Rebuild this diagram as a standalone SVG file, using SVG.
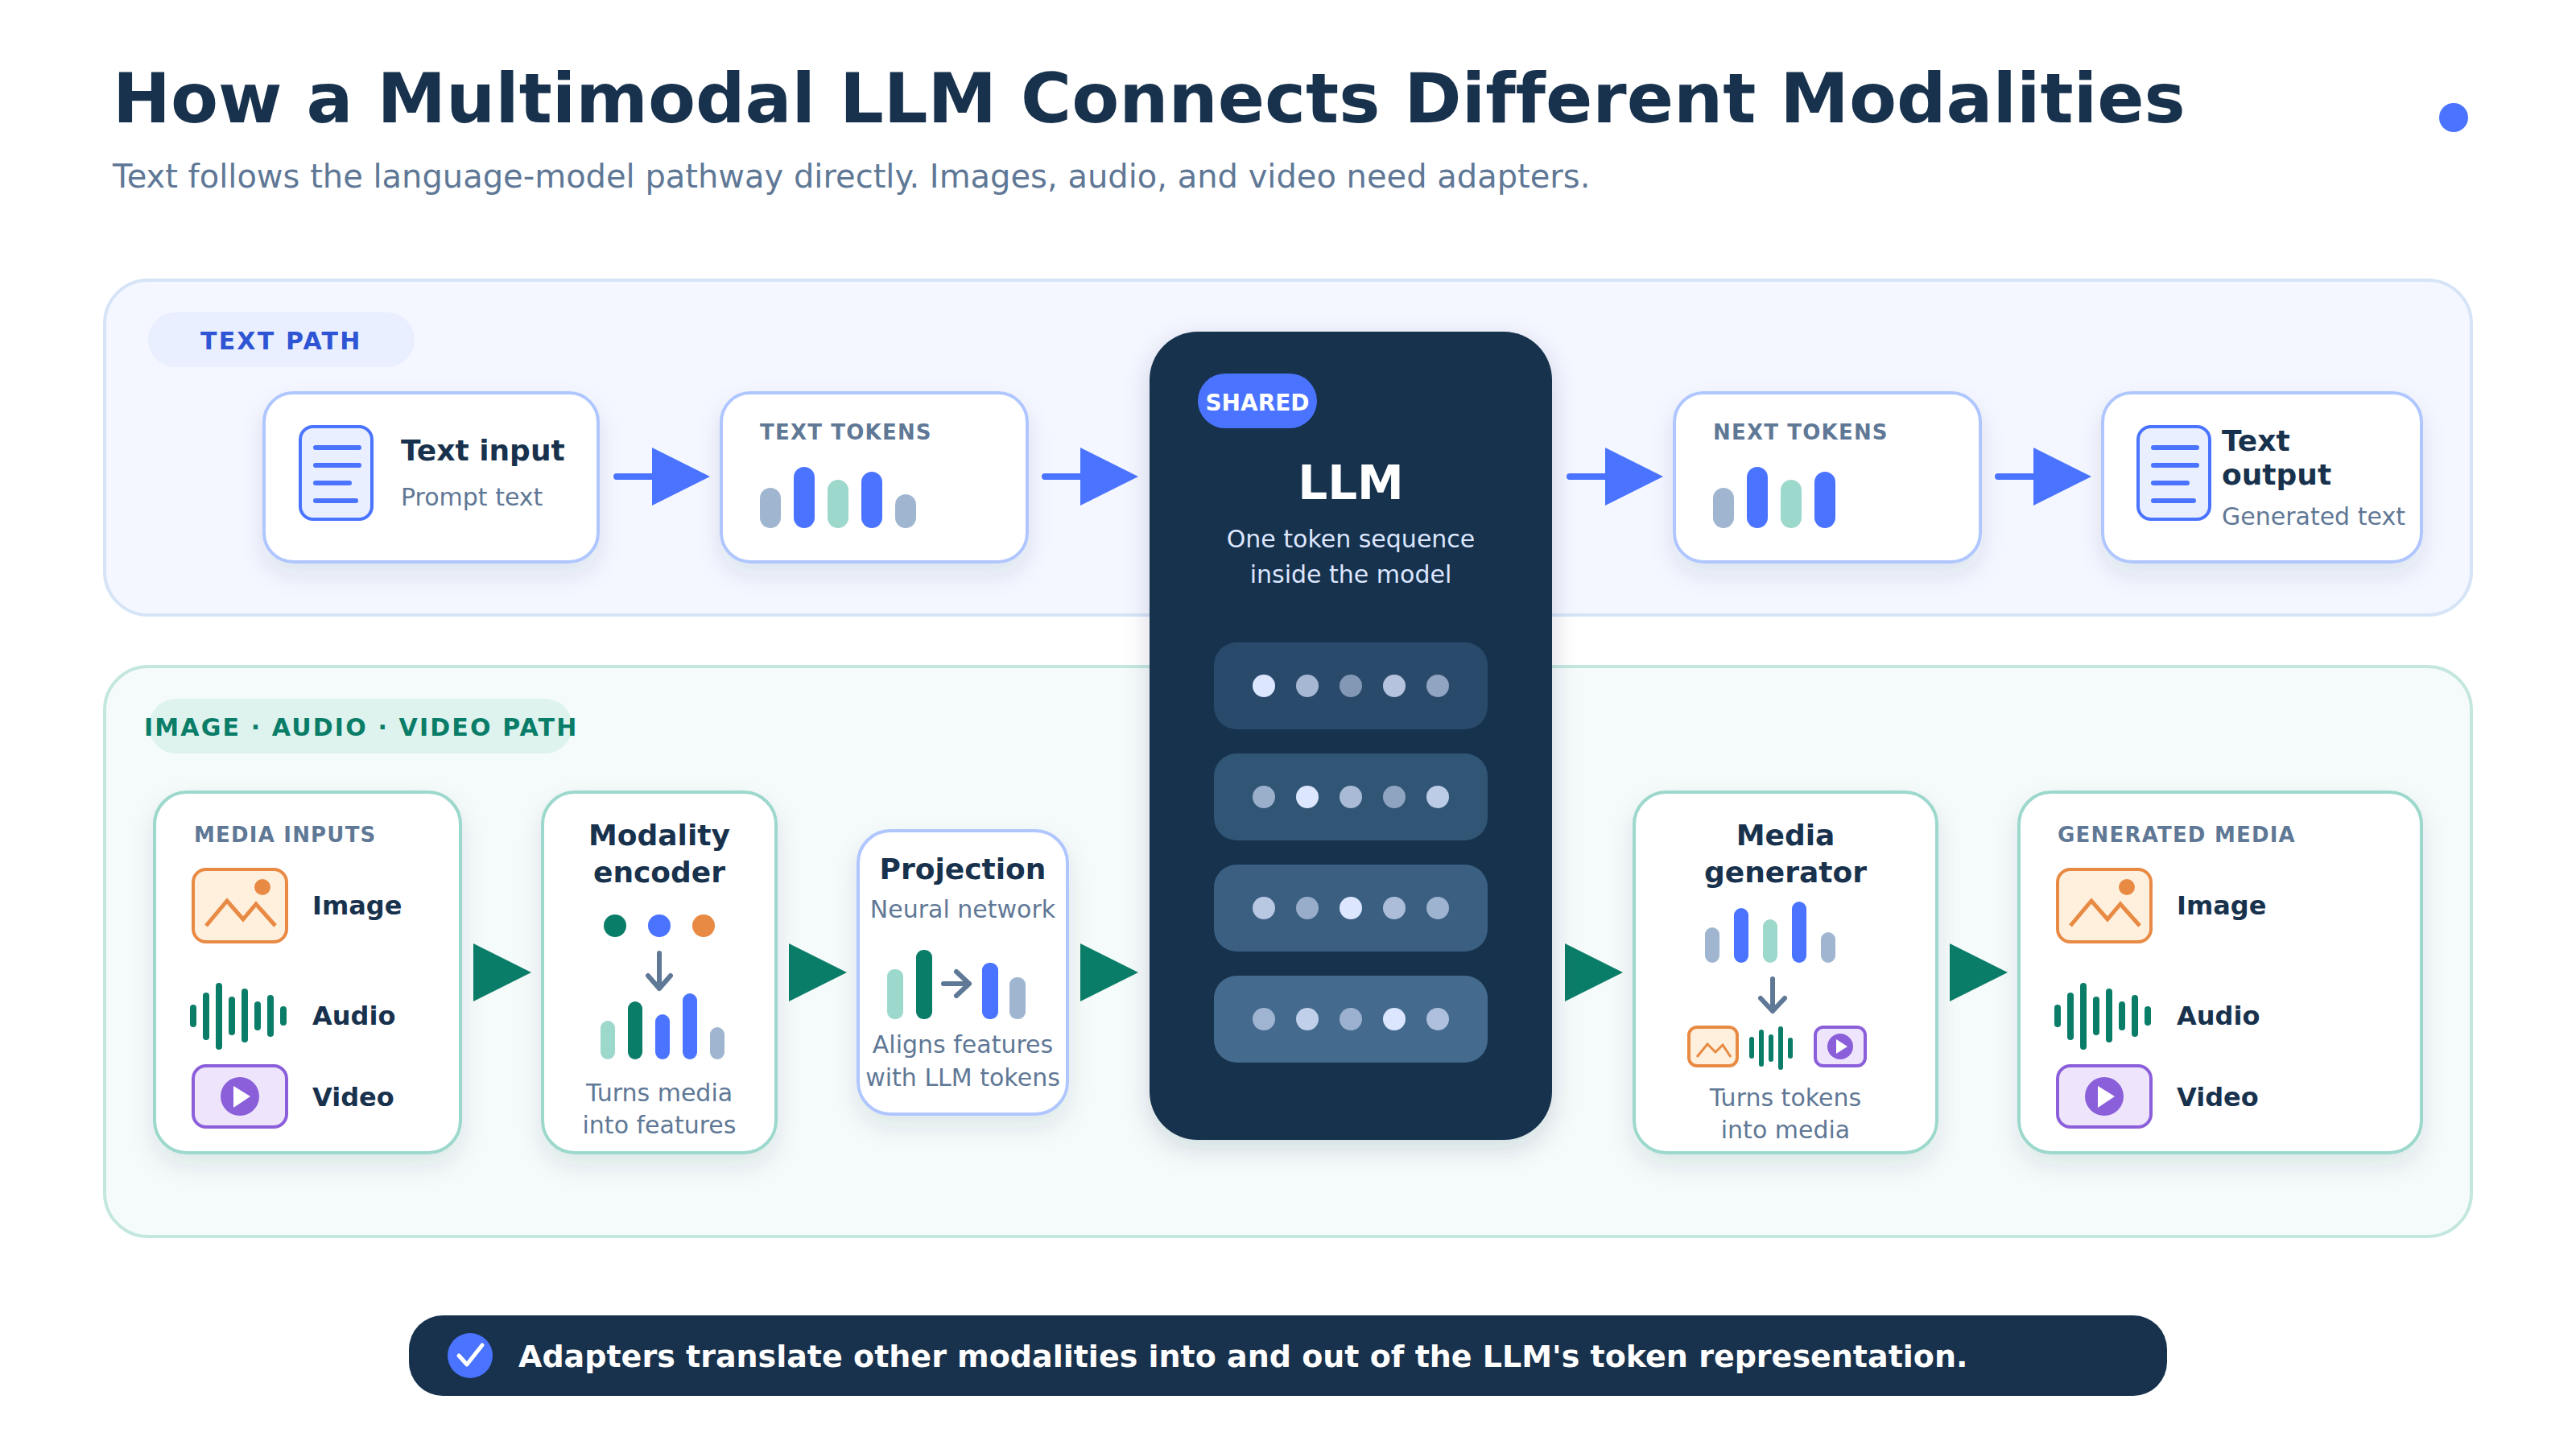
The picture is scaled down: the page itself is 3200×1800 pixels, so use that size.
<svg xmlns="http://www.w3.org/2000/svg" xmlns:xlink="http://www.w3.org/1999/xlink" width="3200" height="1800" viewBox="0 0 3200 1800">
<style>
text{font-family:"DejaVu Sans",sans-serif}
.b{font-weight:700;fill:#18324d}
.m{text-anchor:middle}
.n{font-size:36px}
.s{font-size:30px;fill:#5f7896}
.lab{font-size:26px;font-weight:700;fill:#5f7896;letter-spacing:1.2px}
.it{font-size:32px}
.card{fill:#fff;stroke-width:4;filter:url(#sh)}
.bl{stroke:#b0c6ff}.gr{stroke:#9dd8cd}
.cb{fill:#4a74ff}.ct{fill:#9dd8cd}.cg{fill:#a0b6d0}.cd{fill:#0a7d68}.co{fill:#e88a43}
.ln{stroke:#4a74ff;stroke-width:8;stroke-linecap:round;fill:none}
.ga{fill:#0a7d68}.ba{fill:#4a74ff}
.ar{fill:none;stroke:#5f7896;stroke-width:6;stroke-linecap:round;stroke-linejoin:round}
.tk{fill:#dce6ff}
</style>
<defs>
<filter id="sh" x="-30%" y="-30%" width="160%" height="170%"><feDropShadow dx="0" dy="14" stdDeviation="14" flood-color="#18324d" flood-opacity=".1"/></filter>
<filter id="sh2" x="-20%" y="-10%" width="140%" height="120%"><feDropShadow dx="0" dy="10" stdDeviation="16" flood-color="#18324d" flood-opacity=".16"/></filter>
<g id="doc"><rect x="2" y="2" width="89" height="115" rx="16" fill="#e9efff" stroke="#4a74ff" stroke-width="4"/><path class="ln" style="stroke-width:6" d="M21 28H75M21 50H75M21 72H63M21 94H71"/></g>
<g id="img"><rect x="2" y="2" width="116" height="90" rx="16" fill="#fef0dd" stroke="#e88a43" stroke-width="4"/><circle cx="88" cy="24" r="10" fill="#e88a43"/><path d="M18 72L44 41L64 64L80 45L104 72" fill="none" stroke="#e88a43" stroke-width="5"/></g>
<g id="vid"><rect x="2" y="2" width="116" height="76" rx="16" fill="#eee5fd" stroke="#8b5fd9" stroke-width="4"/><circle cx="60" cy="40" r="24" fill="#8b5fd9"/><path d="M52 27L73 40L52 54Z" fill="#fff"/></g>
<g id="wav" fill="#0a7d68"><rect x="0" y="14" width="8" height="28" rx="4"/><rect x="16" y="-1" width="8" height="59" rx="4"/><rect x="32" y="-13" width="8" height="83" rx="4"/><rect x="48" y="4" width="8" height="48" rx="4"/><rect x="64" y="-6" width="8" height="67" rx="4"/><rect x="80" y="10" width="8" height="36" rx="4"/><rect x="96" y="2" width="8" height="52" rx="4"/><rect x="112" y="16" width="8" height="24" rx="4"/></g>
</defs>
<rect width="3200" height="1800" fill="#fff"/>
<g id="header">
<text x="140" y="152" font-size="86" font-weight="700" fill="#18324d" style="font-variant-ligatures:none">How a Multimodal LLM Connects Different Modalities</text>
<text x="140" y="233" font-size="40" fill="#5f7896">Text follows the language-model pathway directly. Images, audio, and video need adapters.</text>
<circle cx="3048" cy="146" r="18" fill="#4a74ff"/>
</g>
<g id="panel-text">
<rect x="130" y="348" width="2940" height="416" rx="54" fill="#f4f7ff" stroke="#d6e4f7" stroke-width="4"/>
<rect x="184" y="388" width="331" height="68" rx="34" fill="#e9efff"/>
<text x="249" y="434" font-size="30" font-weight="700" fill="#2f55d4" letter-spacing="2.2">TEXT PATH</text>
</g>
<g id="panel-media">
<rect x="130" y="828" width="2940" height="708" rx="54" fill="#f5fbfa" stroke="#c3e7df" stroke-width="4"/>
<rect x="185" y="868" width="526" height="68" rx="34" fill="#def3ee"/>
<text x="179" y="914" font-size="30" font-weight="700" fill="#0a7d68" letter-spacing="2.15">IMAGE · AUDIO · VIDEO PATH</text>
</g>
<g id="connectors">
<path class="ln" d="M766 592H812M1298 592H1344M1950 592H1996M2482 592H2528"/>
<path class="ba" d="M810 556L882 592L810 628ZM1342 556L1414 592L1342 628ZM1994 556L2066 592L1994 628ZM2526 556L2598 592L2526 628Z"/>
<path class="ga" d="M588 1172L660 1208L588 1244ZM980 1172L1052 1208L980 1244ZM1342 1172L1414 1208L1342 1244ZM1944 1172L2016 1208L1944 1244ZM2422 1172L2494 1208L2422 1244Z"/>
</g>
<g id="text-input">
<rect class="card bl" x="328" y="488" width="415" height="210" rx="36"/>
<use xlink:href="#doc" href="#doc" x="371" y="528"/>
<text class="b n" x="498" y="572">Text input</text>
<text class="s" x="498" y="628">Prompt text</text>
</g>
<g id="text-tokens">
<rect class="card bl" x="896" y="488" width="380" height="210" rx="36"/>
<text class="lab" x="944" y="546">TEXT TOKENS</text>
<rect class="cg" x="944" y="606" width="26" height="50" rx="13"/><rect class="cb" x="986" y="580" width="26" height="76" rx="13"/><rect class="ct" x="1028" y="596" width="26" height="60" rx="13"/><rect class="cb" x="1070" y="586" width="26" height="70" rx="13"/><rect class="cg" x="1112" y="614" width="26" height="42" rx="13"/>
</g>
<g id="next-tokens">
<rect class="card bl" x="2080" y="488" width="380" height="210" rx="36"/>
<text class="lab" x="2128" y="546">NEXT TOKENS</text>
<rect class="cg" x="2128" y="606" width="26" height="50" rx="13"/><rect class="cb" x="2170" y="580" width="26" height="76" rx="13"/><rect class="ct" x="2212" y="596" width="26" height="60" rx="13"/><rect class="cb" x="2254" y="586" width="26" height="70" rx="13"/>
</g>
<g id="text-output">
<rect class="card bl" x="2612" y="488" width="396" height="210" rx="36"/>
<use xlink:href="#doc" href="#doc" x="2654" y="528"/>
<text class="b n" x="2760" y="560">Text</text>
<text class="b n" x="2760" y="602">output</text>
<text class="s" x="2760" y="652">Generated text</text>
</g>
<g id="media-inputs">
<rect class="card gr" x="192" y="984" width="380" height="448" rx="40"/>
<text class="lab" x="241" y="1046">MEDIA INPUTS</text>
<use xlink:href="#img" href="#img" x="238" y="1078"/>
<text class="b it" x="388" y="1136">Image</text>
<use xlink:href="#wav" href="#wav" x="236" y="1234"/>
<text class="b it" x="388" y="1273">Audio</text>
<use xlink:href="#vid" href="#vid" x="238" y="1322"/>
<text class="b it" x="388" y="1374">Video</text>
</g>
<g id="modality-encoder">
<rect class="card gr" x="674" y="984" width="290" height="448" rx="40"/>
<text class="b n m" x="819" y="1050">Modality</text>
<text class="b n m" x="819" y="1096">encoder</text>
<circle class="cd" cx="764" cy="1150" r="14"/><circle class="cb" cx="819" cy="1150" r="14"/><circle class="co" cx="874" cy="1150" r="14"/>
<path class="ar" d="M819 1184V1228M805 1212L819 1228L833 1212"/>
<rect class="ct" x="746" y="1268" width="18" height="48" rx="9"/><rect class="cd" x="780" y="1244" width="18" height="72" rx="9"/><rect class="cb" x="814" y="1260" width="18" height="56" rx="9"/><rect class="cb" x="848" y="1234" width="18" height="82" rx="9"/><rect class="cg" x="882" y="1276" width="18" height="40" rx="9"/>
<text class="s m" x="819" y="1368">Turns media</text>
<text class="s m" x="819" y="1408">into features</text>
</g>
<g id="projection">
<rect class="card bl" x="1066" y="1032" width="260" height="352" rx="40"/>
<text class="b n m" x="1196" y="1092">Projection</text>
<text class="s m" x="1196" y="1140">Neural network</text>
<rect class="ct" x="1102" y="1204" width="20" height="62" rx="9"/><rect class="cd" x="1138" y="1180" width="20" height="86" rx="9"/>
<path class="ar" d="M1172 1222H1204M1188 1207L1204 1222L1188 1237"/>
<rect class="cb" x="1220" y="1196" width="20" height="70" rx="9"/><rect class="cg" x="1254" y="1214" width="20" height="52" rx="9"/>
<text class="s m" x="1196" y="1308">Aligns features</text>
<text class="s m" x="1196" y="1349">with LLM tokens</text>
</g>
<g id="llm">
<rect x="1428" y="412" width="500" height="1004" rx="60" fill="#18324d" filter="url(#sh2)"/>
<rect x="1488" y="464" width="148" height="68" rx="34" fill="#4a74ff"/>
<text x="1562" y="510" class="m" font-size="28" font-weight="700" fill="#fff">SHARED</text>
<text x="1678" y="620" class="m" font-size="58" font-weight="700" fill="#fff">LLM</text>
<text x="1678" y="680" class="m" font-size="30" fill="#dce6ff">One token sequence</text>
<text x="1678" y="724" class="m" font-size="30" fill="#dce6ff">inside the model</text>
<rect x="1508" y="798" width="340" height="108" rx="28" fill="#2a4a6b"/>
<rect x="1508" y="936" width="340" height="108" rx="28" fill="#315575"/>
<rect x="1508" y="1074" width="340" height="108" rx="28" fill="#3a5f81"/>
<rect x="1508" y="1212" width="340" height="108" rx="28" fill="#446a8d"/>
<g class="tk">
<circle cx="1570" cy="852" r="14"/><circle cx="1624" cy="852" r="14" opacity=".7"/><circle cx="1678" cy="852" r="14" opacity=".5"/><circle cx="1732" cy="852" r="14" opacity=".78"/><circle cx="1786" cy="852" r="14" opacity=".58"/>
<circle cx="1570" cy="990" r="14" opacity=".62"/><circle cx="1624" cy="990" r="14"/><circle cx="1678" cy="990" r="14" opacity=".7"/><circle cx="1732" cy="990" r="14" opacity=".55"/><circle cx="1786" cy="990" r="14" opacity=".82"/>
<circle cx="1570" cy="1128" r="14" opacity=".78"/><circle cx="1624" cy="1128" r="14" opacity=".58"/><circle cx="1678" cy="1128" r="14"/><circle cx="1732" cy="1128" r="14" opacity=".7"/><circle cx="1786" cy="1128" r="14" opacity=".62"/>
<circle cx="1570" cy="1266" r="14" opacity=".6"/><circle cx="1624" cy="1266" r="14" opacity=".82"/><circle cx="1678" cy="1266" r="14" opacity=".58"/><circle cx="1732" cy="1266" r="14"/><circle cx="1786" cy="1266" r="14" opacity=".7"/>
</g>
</g>
<g id="media-generator">
<rect class="card gr" x="2030" y="984" width="376" height="448" rx="40"/>
<text class="b n m" x="2218" y="1050">Media</text>
<text class="b n m" x="2218" y="1096">generator</text>
<rect class="cg" x="2118" y="1152" width="18" height="44" rx="9"/><rect class="cb" x="2154" y="1128" width="18" height="68" rx="9"/><rect class="ct" x="2190" y="1142" width="18" height="54" rx="9"/><rect class="cb" x="2226" y="1120" width="18" height="76" rx="9"/><rect class="cg" x="2262" y="1158" width="18" height="38" rx="9"/>
<path class="ar" d="M2202 1216V1256M2187 1240L2202 1256L2217 1240"/>
<rect x="2098" y="1276" width="60" height="48" rx="10" fill="#fef0dd" stroke="#e88a43" stroke-width="4"/>
<path d="M2108 1313L2121 1297L2131 1307L2140 1298L2150 1313" fill="none" stroke="#e88a43" stroke-width="3"/>
<g fill="#0a7d68"><rect x="2173" y="1288" width="6" height="27" rx="3"/><rect x="2185" y="1279" width="6" height="46" rx="3"/><rect x="2197" y="1285" width="6" height="34" rx="3"/><rect x="2209" y="1275" width="6" height="54" rx="3"/><rect x="2221" y="1289" width="6" height="26" rx="3"/></g>
<rect x="2255" y="1276" width="62" height="48" rx="10" fill="#eee5fd" stroke="#8b5fd9" stroke-width="4"/>
<circle cx="2286" cy="1300" r="16" fill="#8b5fd9"/><path d="M2281 1291L2295 1300L2281 1309Z" fill="#fff"/>
<text class="s m" x="2218" y="1374">Turns tokens</text>
<text class="s m" x="2218" y="1414">into media</text>
</g>
<g id="generated-media">
<rect class="card gr" x="2508" y="984" width="500" height="448" rx="40"/>
<text class="lab" x="2556" y="1046">GENERATED MEDIA</text>
<use xlink:href="#img" href="#img" x="2554" y="1078"/>
<text class="b it" x="2704" y="1136">Image</text>
<use xlink:href="#wav" href="#wav" x="2552" y="1234"/>
<text class="b it" x="2704" y="1273">Audio</text>
<use xlink:href="#vid" href="#vid" x="2554" y="1322"/>
<text class="b it" x="2704" y="1374">Video</text>
</g>
<g id="takeaway">
<rect x="508" y="1634" width="2184" height="100" rx="42" fill="#18324d"/>
<circle cx="584" cy="1684" r="28" fill="#4a74ff"/>
<path d="M570 1684L580 1695L599 1671" fill="none" stroke="#fff" stroke-width="5" stroke-linecap="round" stroke-linejoin="round"/>
<text x="644" y="1698" font-size="38" font-weight="700" fill="#fff">Adapters translate other modalities into and out of the LLM's token representation.</text>
</g>
</svg>
